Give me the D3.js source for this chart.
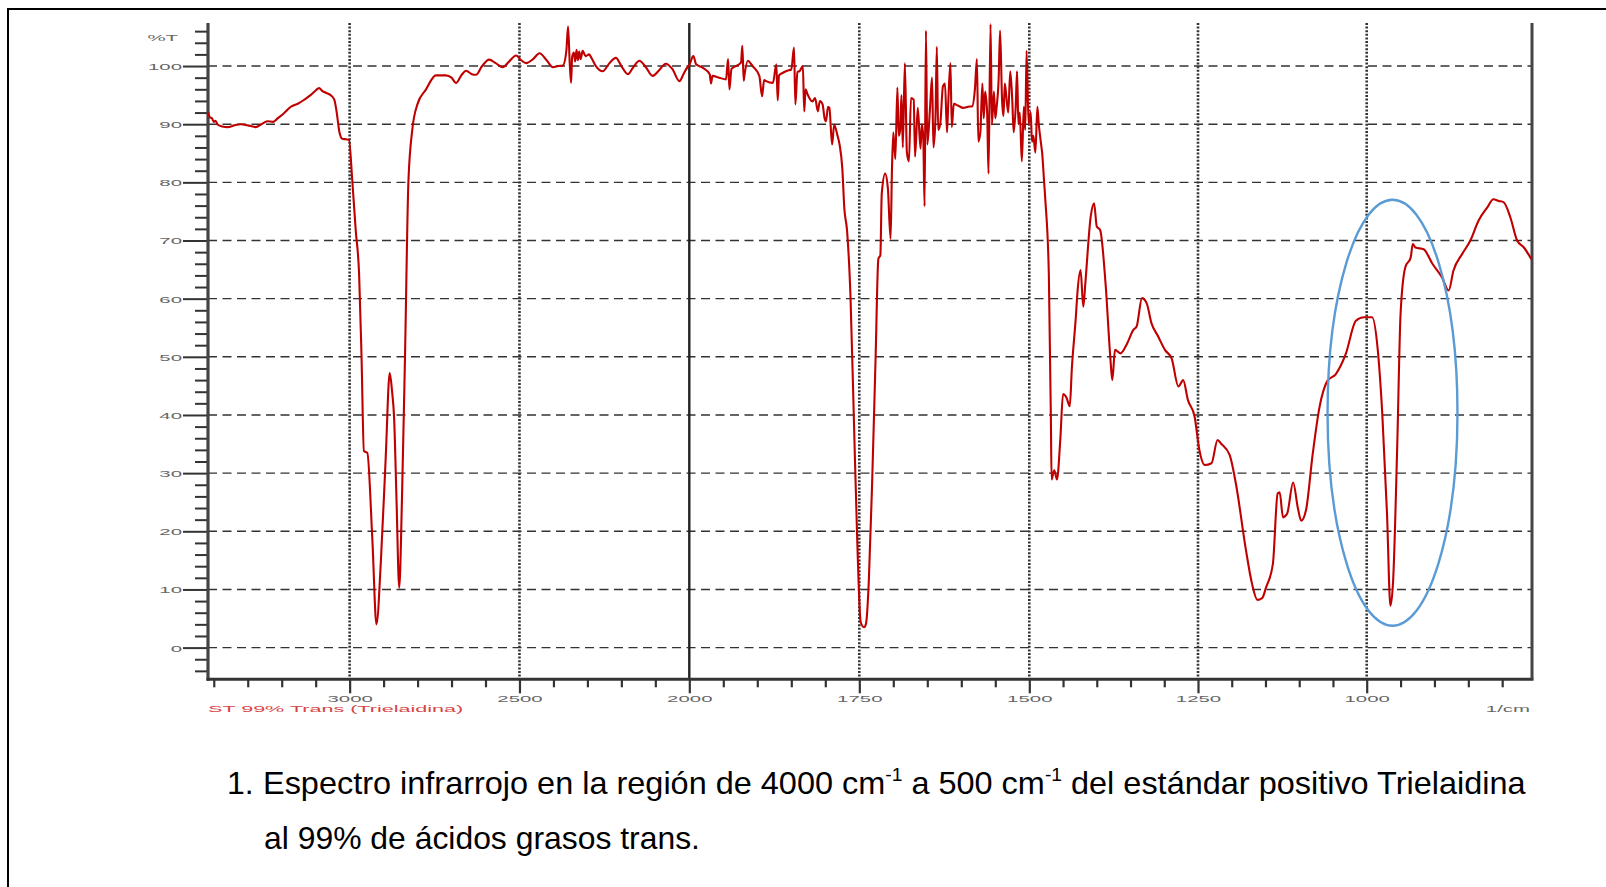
<!DOCTYPE html>
<html>
<head>
<meta charset="utf-8">
<script src="https://cdn.jsdelivr.net/npm/d3@7"></script>
<style>
  html, body { margin: 0; padding: 0; background: #fff; }
  svg { display: block; }
  text { font-family: "Liberation Sans", Arial, sans-serif; }
</style>
</head>
<body>
<svg id="chart" width="1606" height="887"></svg>
<script>
// ---------------- DATA ----------------
const wavenumbers = [
  3416,3412,3405,3400,3395,3388,3375,3359,3340,3320,
  3300,3276,3260,3242,3225,3212,3195,3173,3150,3134,
  3115,3100,3090,3080,3070,3056,3045,3038,3030,3022,
  3010,3002,2992,2982,2972,2965,2958,2948,2933,2921,
  2908,2894,2882,2875,2869,2862,2854,2846,2837,2827,
  2815,2800,2776,2746,2717,2700,2687,2670,2657,2640,
  2628,2610,2589,2570,2549,2530,2510,2495,2480,2460,
  2441,2420,2402,2385,2372,2362,2357,2352,2348,2345,
  2340,2336,2332,2328,2324,2320,2314,2305,2295,2289,
  2275,2255,2235,2216,2200,2181,2165,2147,2128,2108,
  2090,2069,2050,2029,2018,2010,2000,1994,1990,1980,
  1970,1968,1966,1956,1946,1943,1941,1938,1936,1924,
  1922,1920,1919,1914,1907,1897,1893,1890,1887,1877,
  1872,1870,1868,1863,1856,1850,1846,1844,1841,1838,
  1833,1831,1829,1826,1819,1815,1811,1808,1804,1801,
  1799,1796,1794,1790,1787,1782,1779,1775,1772,1768,
  1763,1758,1753,1748,1743,1740,1736,1731,1726,1722,
  1719,1717,1712,1708,1704,1702,1700,1697,1694,1692,
  1690,1688,1686,1683,1680,1677,1674,1670,1668,1664,
  1660,1658,1656,1654,1652,1650,1646,1643,1641,1638,
  1636,1634,1631,1627,1624,1621,1619,1616,1614,1611,
  1605,1597,1590,1584,1580,1577,1575,1572,1569,1567,
  1565,1562,1560,1557,1555,1552,1550,1548,1545,1543,
  1540,1538,1536,1534,1531,1528,1525,1523,1520,1518,
  1516,1514,1511,1508,1506,1504,1501,1498,1496,1494,
  1491,1488,1486,1483,1481,1478,1476,1471,1468,1467,
  1463,1459,1454,1450,1445,1440,1437,1431,1429,1424,
  1420,1417,1409,1404,1400,1395,1387,1380,1377,1373,
  1365,1355,1346,1341,1333,1326,1319,1309,1299,1289,
  1279,1272,1265,1255,1248,1240,1230,1221,1216,1203,
  1194,1179,1170,1162,1155,1149,1139,1132,1129,1124,
  1118,1109,1102,1097,1090,1080,1070,1058,1046,1031,
  1016,1004,992,984,977,970,965,961,955,950,
  943,935,932,928,916,903,889,879,872,859,
  847,835,822,813,805,798,788,778,768,757
];
const transmittance = [
  92.0,91.2,91.0,90.4,90.6,89.9,89.6,89.5,89.8,90.0,
  89.8,89.5,90.0,90.5,90.4,91.0,91.8,93.0,93.6,94.2,
  95.0,95.8,96.2,95.7,95.4,95.0,94.2,92.0,88.6,87.5,
  87.4,87.3,80.1,71.7,64.0,50.0,33.8,33.5,18.4,4.0,
  14.9,32.4,47.2,44.0,39.4,25.4,10.3,25.4,50.0,80.1,
  89.3,93.5,95.9,98.4,98.4,98.0,97.1,98.5,99.2,98.6,
  98.5,100.0,101.1,100.5,99.8,100.8,101.8,101.0,100.5,101.2,
  102.2,101.0,99.8,100.0,100.1,102.6,106.8,100.5,97.1,101.5,
  102.3,100.8,102.8,101.0,102.5,101.2,102.6,101.7,102.0,101.5,
  100.0,99.1,100.5,101.4,100.0,98.6,99.8,100.9,99.8,98.3,
  99.2,100.4,99.5,97.4,98.5,99.4,100.2,101.7,100.3,99.7,
  98.6,97.0,98.3,98.0,97.7,101.2,96.0,99.5,99.7,100.6,
  103.5,97.5,98.3,100.9,100.0,98.3,94.8,97.6,97.4,97.1,
  100.3,94.1,98.4,98.8,99.2,99.4,103.2,93.4,99.0,99.1,
  100.0,92.2,96.0,95.1,93.9,94.5,92.2,94.0,93.4,91.0,
  90.5,93.0,92.8,86.5,89.9,88.0,86.5,82.4,75.5,71.7,
  60.5,39.4,18.4,4.4,3.5,4.2,11.4,28.9,50.0,66.8,
  67.5,78.0,81.5,79.0,70.3,82.0,88.6,84.0,96.3,88.0,
  89.0,95.0,86.0,100.5,85.1,83.6,94.5,94.2,84.4,92.8,
  85.8,90.0,88.0,75.9,106.1,86.5,92.8,98.0,86.0,91.0,
  103.3,89.0,90.0,96.5,97.0,88.6,94.2,100.5,89.5,93.5,
  93.2,92.8,93.0,93.1,96.0,101.2,87.0,88.6,97.0,91.0,
  95.6,92.0,81.5,107.2,90.0,95.6,91.0,93.0,98.0,106.1,
  94.0,91.4,97.0,95.0,92.0,99.1,94.0,88.6,93.0,99.1,
  90.0,92.0,83.6,93.0,89.0,102.6,90.0,92.1,87.0,88.0,
  85.1,93.0,90.0,87.0,85.1,80.0,76.6,64.0,39.4,28.9,
  30.5,28.9,35.9,43.6,43.0,41.5,47.9,56.9,60.5,64.9,
  58.6,62.6,74.1,76.4,72.4,71.8,62.6,50.0,46.0,51.2,
  50.6,52.3,54.6,55.2,60.1,59.2,55.8,53.5,51.2,49.7,
  44.9,46.0,42.6,39.7,34.0,31.4,31.7,35.7,35.1,33.1,
  28.3,16.8,11.0,8.2,8.5,10.4,14.4,26.5,26.7,22.4,
  23.0,28.4,24.0,21.8,23.6,33.3,41.3,45.9,47.0,50.5,
  56.2,56.8,56.8,51.6,40.2,23.0,7.2,11.5,34.4,57.4,
  65.4,67.1,69.4,68.8,68.5,66.0,63.7,61.4,64.8,67.7,
  70.0,73.4,75.7,77.1,76.8,76.6,74.0,70.0,68.8,66.8
];
const xMajorTicks = [3000, 2500, 2000, 1750, 1500, 1250, 1000];
const xDottedGrid = [3000, 2500, 1750, 1500, 1250, 1000];
const xSolidGrid = [2000];
const xMinorTicks = [3400,3300,3200,3100,2900,2800,2700,2600,2400,2300,2200,2100,
  1950,1900,1850,1800,1700,1650,1600,1550,1450,1400,1350,1300,1200,1150,1100,1050,950,900,850,800];
const yMajorTicks = [0,10,20,30,40,50,60,70,80,90,100];
const yMinorTicks = [-4,-2,2,4,6,8,12,14,16,18,22,24,26,28,32,34,36,38,42,44,46,48,52,54,56,58,
  62,64,66,68,72,74,76,78,82,84,86,88,92,94,96,98,102,104,106];
const yUnitLabel = "%T";
const xUnitLabel = "1/cm";
const seriesName = "ST 99% Trans (Trielaidina)";
// highlighted band (ellipse) in data units: wavenumber span and %T span
const ellipseWn = [1058, 866];
const ellipseT = [77.0, 3.75];
const captionNumber = "1.";
const captionLine1 = [
  {t: "Espectro infrarrojo en la región de 4000 cm", sup: false},
  {t: "-1", sup: true},
  {t: " a 500 cm", sup: false},
  {t: "-1", sup: true},
  {t: " del estándar positivo Trielaidina", sup: false}
];
const captionLine2 = "al 99% de ácidos grasos trans.";

// ---------------- SCALES ----------------
const svg = d3.select("#chart");
const x = d3.scaleLinear()
  .domain([3417, 2000, 1500, 1000, 756])
  .range([208, 689.3, 1029.3, 1366.7, 1532]);
const y = d3.scaleLinear()
  .domain([-5.45, 107.4])
  .range([679.3, 23]);
const [xL, xR] = [x.range()[0], x.range()[x.range().length - 1]];
const [yB, yT] = y.range();
const SX = 2.15; // horizontal stretch of the instrument's small labels

// frame
svg.append("line").attr("x1", 7).attr("x2", 1606).attr("y1", 9).attr("y2", 9)
  .attr("stroke", "#000").attr("stroke-width", 2);
svg.append("line").attr("x1", 8).attr("x2", 8).attr("y1", 9).attr("y2", 887)
  .attr("stroke", "#000").attr("stroke-width", 2);

// horizontal dashed grid
svg.append("g").selectAll("line").data(yMajorTicks).join("line")
  .attr("x1", xL).attr("x2", xR)
  .attr("y1", d => y(d)).attr("y2", d => y(d))
  .attr("stroke", "#333").attr("stroke-width", 1.4).attr("stroke-dasharray", "9,5.5");

// vertical dotted grid
svg.append("g").selectAll("line").data(xDottedGrid).join("line")
  .attr("x1", d => x(d)).attr("x2", d => x(d))
  .attr("y1", yT).attr("y2", yB)
  .attr("stroke", "#333").attr("stroke-width", 2.6).attr("stroke-dasharray", "2,1.6");
svg.append("g").selectAll("line").data(xSolidGrid).join("line")
  .attr("x1", d => x(d)).attr("x2", d => x(d))
  .attr("y1", yT).attr("y2", yB)
  .attr("stroke", "#222").attr("stroke-width", 2.4);

// Y axis
const yAxisMinor = svg.append("g").attr("transform", `translate(${xL},0)`)
  .call(d3.axisLeft(y).tickValues(yMinorTicks).tickSize(13).tickFormat(""));
const yAxisMajor = svg.append("g").attr("transform", `translate(${xL},0)`)
  .call(d3.axisLeft(y).tickValues(yMajorTicks).tickSize(25).tickFormat(d => d));
[yAxisMinor, yAxisMajor].forEach(g => {
  g.select(".domain").remove();
  g.selectAll(".tick line").attr("stroke", "#333").attr("stroke-width", 2);
});
yAxisMajor.selectAll(".tick text")
  .attr("x", 0).attr("dy", "0.36em")
  .attr("transform", `translate(-26,0) scale(${SX},1)`)
  .attr("fill", "#666").attr("font-size", 9.5);
svg.append("line").attr("x1", xL).attr("x2", xL).attr("y1", yT).attr("y2", yB + 1.5)
  .attr("stroke", "#444").attr("stroke-width", 3.2);
svg.append("text").text(yUnitLabel)
  .attr("transform", `translate(178,41) scale(${SX},1)`)
  .attr("text-anchor", "end").attr("font-size", 9.5).attr("fill", "#666");

// X axis
const xAxisMinor = svg.append("g").attr("transform", `translate(0,${yB})`)
  .call(d3.axisBottom(x).tickValues(xMinorTicks).tickSize(8).tickFormat(""));
const xAxisMajor = svg.append("g").attr("transform", `translate(0,${yB})`)
  .call(d3.axisBottom(x).tickValues(xMajorTicks).tickSize(14).tickFormat(d => d));
[xAxisMinor, xAxisMajor].forEach(g => {
  g.select(".domain").remove();
  g.selectAll(".tick line").attr("stroke", "#333").attr("stroke-width", 2.2);
});
xAxisMajor.selectAll(".tick text")
  .attr("y", 0).attr("dy", 0)
  .attr("transform", `translate(0,23) scale(${SX},1)`)
  .attr("fill", "#666").attr("font-size", 9.5);
svg.append("line").attr("x1", xL - 1.5).attr("x2", xR + 1.5).attr("y1", yB).attr("y2", yB)
  .attr("stroke", "#333").attr("stroke-width", 3);
svg.append("line").attr("x1", xR).attr("x2", xR).attr("y1", yT).attr("y2", yB)
  .attr("stroke", "#444").attr("stroke-width", 3);

svg.append("text").text(seriesName)
  .attr("transform", `translate(208,711.5) scale(2.27,1)`)
  .attr("font-size", 9.5).attr("fill", "#d64545");
svg.append("text").text(xUnitLabel)
  .attr("transform", `translate(1530,711.5) scale(${SX},1)`)
  .attr("text-anchor", "end").attr("font-size", 9.5).attr("fill", "#666");

// spectrum
const spectrum = d3.zip(wavenumbers, transmittance);
svg.append("path").datum(spectrum)
  .attr("fill", "none").attr("stroke", "#c00000").attr("stroke-width", 2.1)
  .attr("stroke-linejoin", "round")
  .attr("d", d3.line().curve(d3.curveMonotoneX).x(d => x(d[0])).y(d => y(d[1])));

// highlight ellipse
const ex0 = x(ellipseWn[0]), ex1 = x(ellipseWn[1]);
const ey0 = y(ellipseT[0]), ey1 = y(ellipseT[1]);
svg.append("ellipse")
  .attr("cx", (ex0 + ex1) / 2).attr("cy", (ey0 + ey1) / 2)
  .attr("rx", Math.abs(ex1 - ex0) / 2).attr("ry", Math.abs(ey1 - ey0) / 2)
  .attr("fill", "none").attr("stroke", "#5b9bd5").attr("stroke-width", 2.4);

// caption
const CAP = 32;
svg.append("text").text(captionNumber)
  .attr("x", 227).attr("y", 794).attr("font-size", CAP).attr("fill", "#000");
const l1 = svg.append("text").attr("font-size", CAP).attr("fill", "#000");
let raised = false;
captionLine1.forEach(p => {
  const ts = l1.append("tspan").text(p.t);
  if (p.sup) { ts.attr("font-size", 19).attr("dy", -13); raised = true; }
  else if (raised) { ts.attr("dy", 13); raised = false; }
});
const w1 = l1.node().getComputedTextLength();
l1.attr("transform", `translate(263,794) scale(${(1526 - 263) / w1},1)`);
const l2 = svg.append("text").text(captionLine2).attr("font-size", CAP).attr("fill", "#000");
const w2 = l2.node().getComputedTextLength();
l2.attr("transform", `translate(264,849) scale(${(700 - 264) / w2},1)`);
</script>
</body>
</html>
